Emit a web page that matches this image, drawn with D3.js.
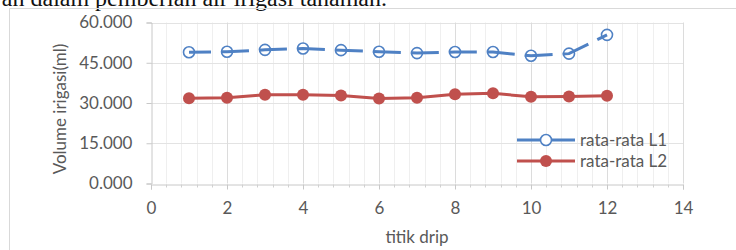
<!DOCTYPE html>
<html><head><meta charset="utf-8">
<script src="https://cdn.jsdelivr.net/npm/d3@7"></script>
<style>body{margin:0;background:#fff}svg{display:block}</style>
</head><body>
<svg id="c" width="736" height="250"></svg>
<script>
const drips = [1,2,3,4,5,6,7,8,9,10,11,12];
const rataL1 = [48.9,49.1,49.8,50.3,49.7,49.1,48.6,49.0,49.0,47.6,48.4,55.4];
const rataL2 = [31.8,32.0,33.1,33.1,32.8,31.7,32.0,33.3,33.6,32.3,32.4,32.7];
const yTicks = [0,15,30,45,60];
const yTickLabels = ["0.000","15.000","30.000","45.000","60.000"];
const xTicks = [0,2,4,6,8,10,12,14];
const seriesNames = ["rata-rata L1","rata-rata L2"];
const colors = ["#4f81c4","#c0504d"];
const FONT = "Lato, 'Open Sans', sans-serif";
const FS = 17;

const svg = d3.select("#c");
const x = d3.scaleLinear().domain([0,14]).range([151,683]);
const y = d3.scaleLinear().domain([0,60]).range([183.5,22.5]);

// cropped caption line at top
svg.append("text").attr("x",387).attr("y",5.5).attr("text-anchor","end")
  .attr("font-family","'Liberation Serif', serif").attr("font-size",24).attr("fill","#111")
  .text("an dalam pemberian air irigasi tanaman.");

// chart frame
svg.append("path").attr("d","M9.5,250V8.5H736").attr("fill","none").attr("stroke","#d9d9d9").attr("stroke-width",1);

// minor vertical grid
const minor = d3.range(0,14.001,0.4).filter(v=>Math.abs(v/2-Math.round(v/2))>1e-6);
svg.append("g").selectAll("line").data(minor).join("line")
  .attr("x1",d=>Math.round(x(d))+0.5).attr("x2",d=>Math.round(x(d))+0.5)
  .attr("y1",y(60)).attr("y2",y(0)).attr("stroke","#efefef").attr("stroke-width",1);
// horizontal grid
svg.append("g").selectAll("line").data(yTicks.slice(1)).join("line")
  .attr("x1",x(0)).attr("x2",x(14)).attr("y1",d=>Math.round(y(d))+0.5).attr("y2",d=>Math.round(y(d))+0.5)
  .attr("stroke","#e3e3e3").attr("stroke-width",1);
// major vertical grid
svg.append("g").selectAll("line").data(xTicks.slice(1)).join("line")
  .attr("x1",d=>Math.round(x(d))+0.5).attr("x2",d=>Math.round(x(d))+0.5)
  .attr("y1",y(60)).attr("y2",y(0)).attr("stroke","#dcdcdc").attr("stroke-width",1);

// y axis
const yAxis = d3.axisLeft(y).tickValues(yTicks).tickSize(5).tickPadding(14)
  .tickFormat((d,i)=>yTickLabels[i]);
const gy = svg.append("g").attr("transform",`translate(${Math.round(x(0))+0.5},0)`).call(yAxis);
gy.select(".domain").attr("stroke","#c8c8c8");
gy.selectAll(".tick line").attr("stroke","#c8c8c8");
gy.selectAll("text").attr("font-family",FONT).attr("font-size",FS).attr("fill","#595959");

// x axis
const xAxis = d3.axisBottom(x).tickValues(xTicks).tickSize(5).tickPadding(12).tickFormat(d3.format("d"));
const gx = svg.append("g").attr("transform",`translate(0,${Math.round(y(0))+0.5})`).call(xAxis);
gx.select(".domain").attr("stroke","#c8c8c8");
gx.selectAll(".tick line").attr("stroke","#c8c8c8");
gx.selectAll("text").attr("font-family",FONT).attr("font-size",FS).attr("fill","#595959");
gx.append("g").selectAll("line").data(minor).join("line")
  .attr("x1",d=>Math.round(x(d))+0.5).attr("x2",d=>Math.round(x(d))+0.5)
  .attr("y1",0).attr("y2",3).attr("stroke","#d0d0d0");

// axis titles
svg.append("text").attr("x",417).attr("y",243).attr("text-anchor","middle")
  .attr("font-family",FONT).attr("font-size",FS).attr("fill","#595959").text("titik drip");
svg.append("text").attr("transform","translate(66,109) rotate(-90)").attr("text-anchor","middle")
  .attr("font-family",FONT).attr("font-size",FS).attr("fill","#595959").text("Volume irigasi(ml)");

const line = d3.line().x((d,i)=>x(drips[i])).y(d=>y(d));

// series L2 (red filled)
svg.append("path").datum(rataL2).attr("d",line).attr("fill","none")
  .attr("stroke",colors[1]).attr("stroke-width",3).attr("stroke-linejoin","round");
svg.append("g").selectAll("circle").data(rataL2).join("circle")
  .attr("cx",(d,i)=>x(drips[i])).attr("cy",d=>y(d)).attr("r",6).attr("fill",colors[1]);

// series L1 (blue hollow, line drawn over)
svg.append("g").selectAll("circle").data(rataL1).join("circle")
  .attr("cx",(d,i)=>x(drips[i])).attr("cy",d=>y(d)).attr("r",5.5)
  .attr("fill","#fff").attr("stroke",colors[0]).attr("stroke-width",1.6);
svg.append("path").datum(rataL1).attr("d",line).attr("fill","none")
  .attr("stroke",colors[0]).attr("stroke-width",3).attr("stroke-dasharray","28,10").attr("stroke-dashoffset",6);

// legend
const lg = svg.append("g");
[0,1].forEach(k=>{
  const ly = 140 + k*21;
  lg.append("line").attr("x1",517).attr("x2",575).attr("y1",ly).attr("y2",ly)
    .attr("stroke",colors[k]).attr("stroke-width",3);
  if(k===0){
    lg.append("circle").attr("cx",546).attr("cy",ly).attr("r",5.5).attr("fill","#fff")
      .attr("stroke",colors[0]).attr("stroke-width",1.6);
  } else {
    lg.append("circle").attr("cx",546).attr("cy",ly).attr("r",6).attr("fill",colors[1]);
  }
  lg.append("text").attr("x",580).attr("y",ly+6).attr("font-family",FONT).attr("font-size",FS)
    .attr("fill","#595959").text(seriesNames[k]);
});
</script>
</body></html>
